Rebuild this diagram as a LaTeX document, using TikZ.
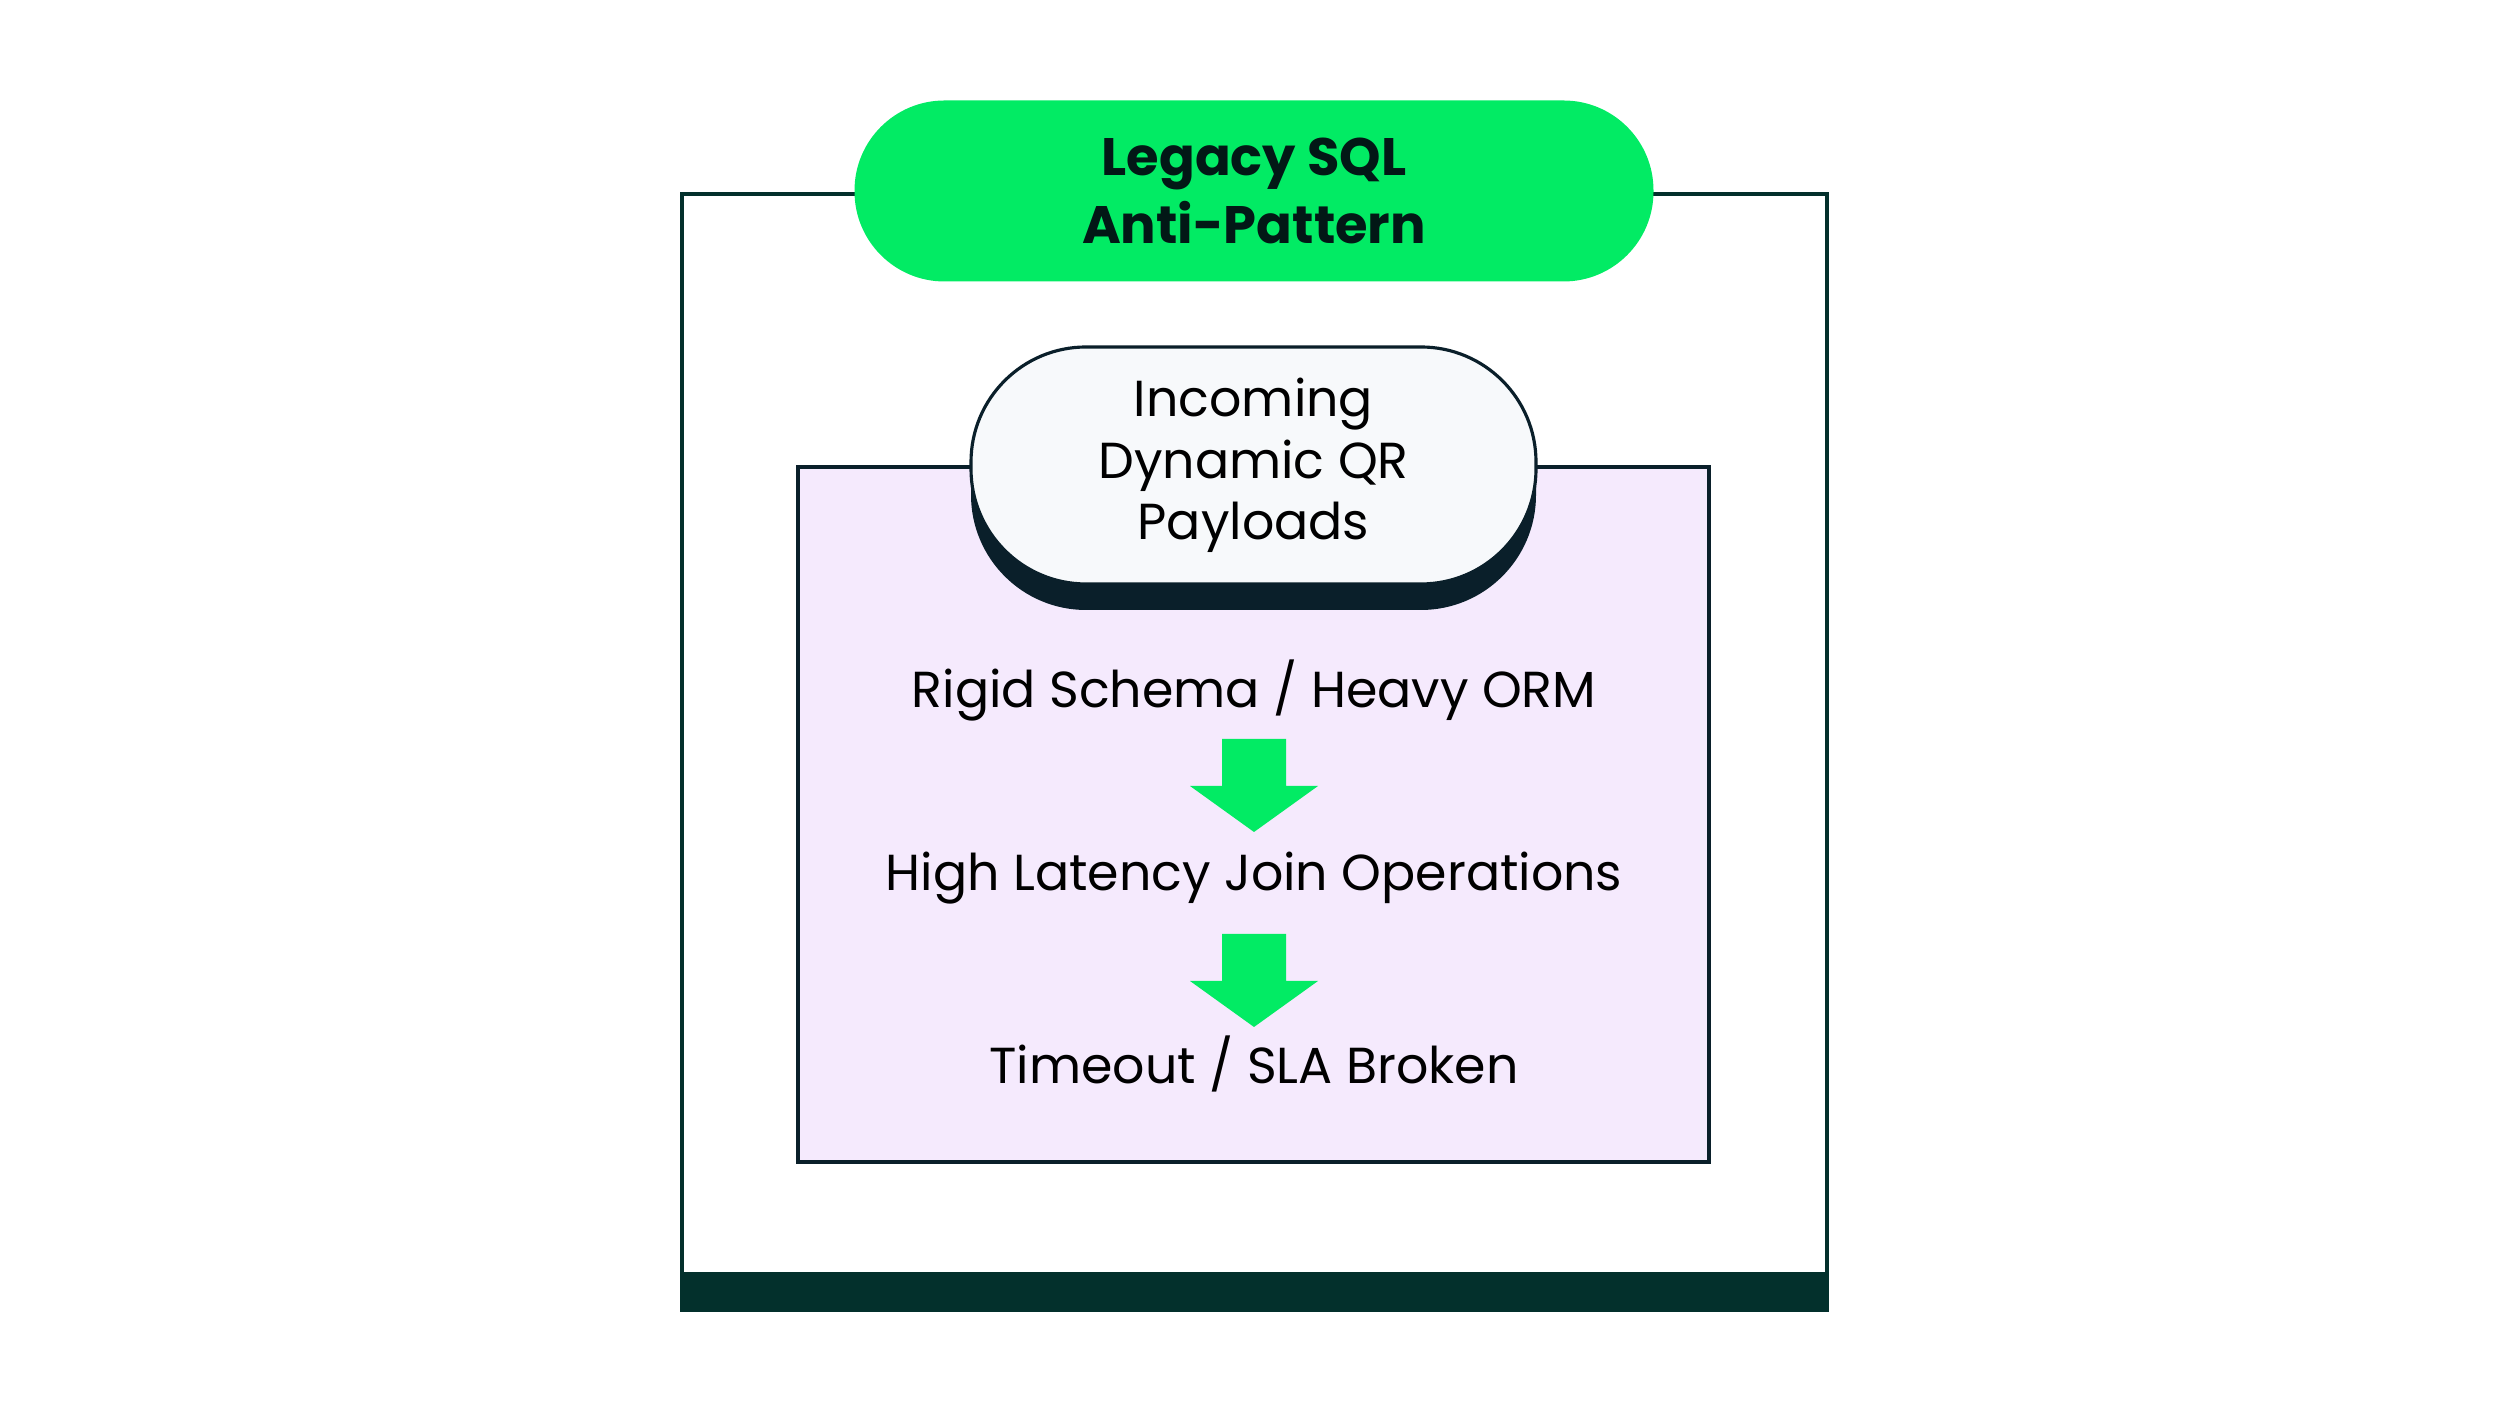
\documentclass[tikz,border=0pt]{standalone}
\usepackage{fontspec}
\setmainfont{Poppins}
\usetikzlibrary{positioning,calc}
\definecolor{brandgreen}{HTML}{02EB64}
\definecolor{deepteal}{HTML}{03302C}
\definecolor{lilac}{HTML}{F5EAFD}
\definecolor{paper}{HTML}{F7F9FB}
\definecolor{inkdark}{HTML}{0A1F2A}
\tikzset{
  flowtext/.style={font=\fontsize{14.4}{17.5}\selectfont, text=black},
  blockarrow/.style={fill=brandgreen, draw=none}
}
\newcommand{\downarrowblock}[1]{%
  \fill[blockarrow] ($(#1)+(-0.32,0)$) -- ($(#1)+(0.32,0)$) -- ($(#1)+(0.32,-0.47)$)
    -- ($(#1)+(0.64,-0.47)$) -- ($(#1)+(0,-0.93)$) -- ($(#1)+(-0.64,-0.47)$)
    -- ($(#1)+(-0.32,-0.47)$) -- cycle;}
\begin{document}
\begin{tikzpicture}
\useasboundingbox (0,0) rectangle (25,14.06);
% outer frame
\fill[deepteal] (6.82,0.96) rectangle (18.27,1.34);
\draw[deepteal, line width=0.9pt] (6.82,0.96) rectangle (18.27,12.12);
% title
\node[fill=brandgreen, rounded corners=0.9cm, minimum width=7.99cm, minimum height=1.81cm,
  align=center, font=\fontsize{15}{19.5}\selectfont\bfseries, text=deepteal!50!black]
  (title) at (12.54,12.15) {Legacy SQL\\Anti-Pattern};
% inner panel
\draw[fill=lilac, draw=inkdark, line width=0.9pt] (7.98,2.44) rectangle (17.09,9.39);
\fill[inkdark, rounded corners=1.15cm] (9.71,7.96) rectangle (15.36,10.33);
\node[draw=inkdark, fill=paper, line width=0.9pt, rounded corners=1.15cm,
  minimum width=5.65cm, minimum height=2.37cm, align=center, flowtext]
  (input) at (12.535,9.405) {Incoming\\Dynamic QR\\Payloads};
% chain
\node[flowtext] (schema) at (12.54,7.15) {Rigid Schema / Heavy ORM};
\node[flowtext] (latency) at (12.54,5.28) {High Latency Join Operations};
\node[flowtext] (timeout) at (12.54,3.42) {Timeout / SLA Broken};
\coordinate (a1) at (12.54,6.67);
\coordinate (a2) at (12.54,4.72);
\downarrowblock{a1}
\downarrowblock{a2}
\end{tikzpicture}
\end{document}
